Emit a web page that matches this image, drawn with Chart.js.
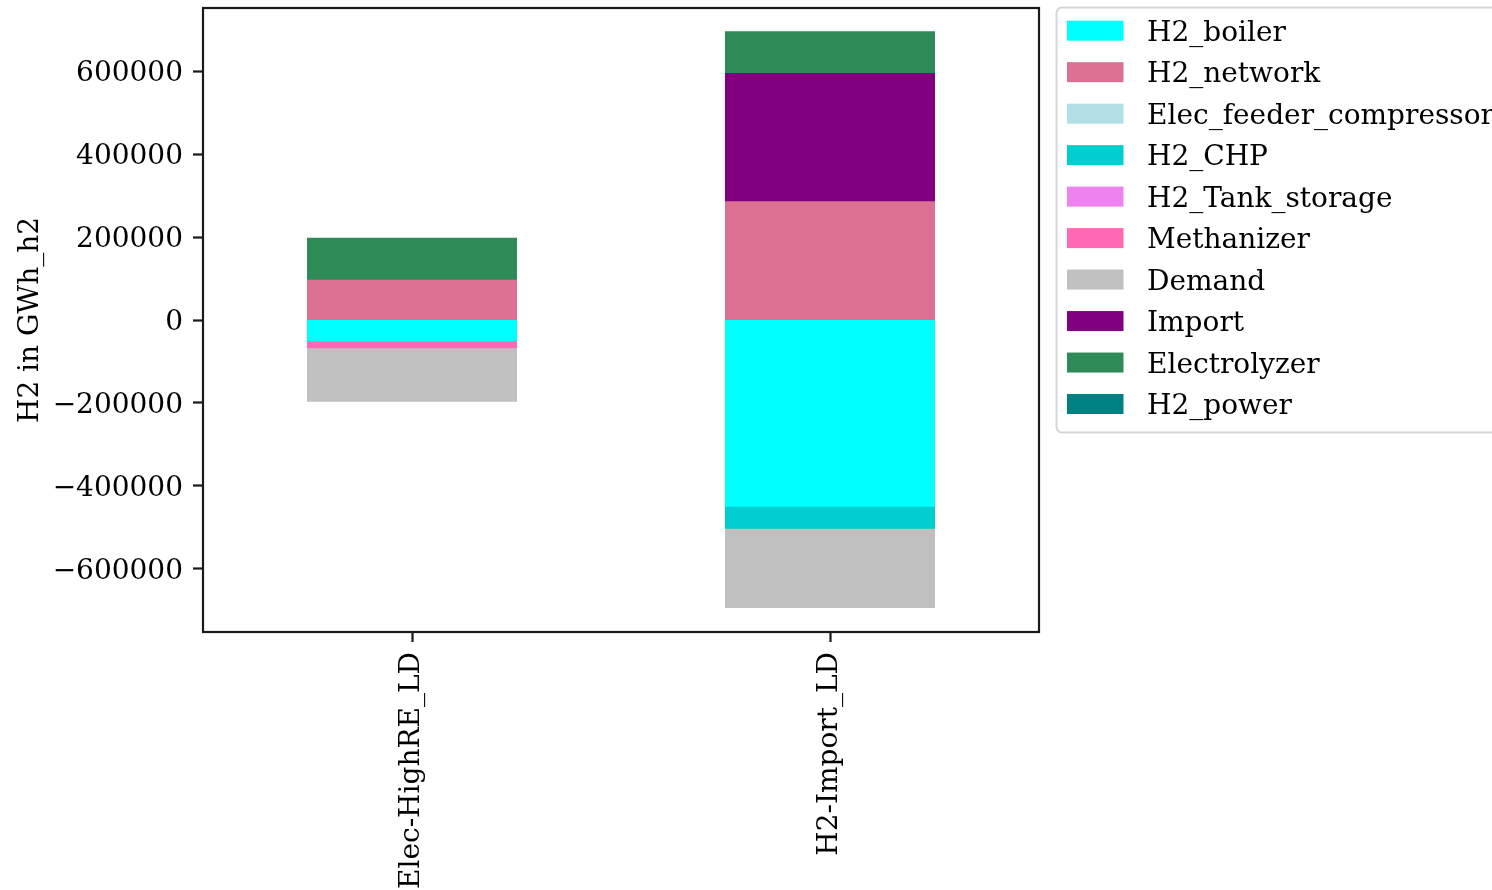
<!DOCTYPE html>
<html>
<head>
<meta charset="utf-8">
<script src="https://cdn.jsdelivr.net/npm/chart.js@4.4.1/dist/chart.umd.min.js"></script>
<style>
  html, body { margin: 0; padding: 0; background: #fff; overflow: hidden; }
  #wrap { width: 1492px; height: 890px; }
</style>
</head>
<body>
<div id="wrap"><canvas id="chart" width="1492" height="890"></canvas></div>
<script>
// Scenarios on the x axis
const categories = ['Elec-HighRE_LD', 'H2-Import_LD'];

// Hydrogen balance per technology, GWh_h2 (supply > 0, use < 0)
const h2Boiler             = [-50000, -449000];
const h2Network            = [96000, 285000];
const elecFeederCompressor = [0, 0];
const h2Chp                = [0, -53000];
const h2TankStorage        = [0, 0];
const methanizer           = [-17000, 0];
const demand               = [-129000, -191000];
const importH2             = [0, 309000];
const electrolyzer         = [101000, 101000];
const h2Power              = [0, 0];

const seriesNames = ['H2_boiler', 'H2_network', 'Elec_feeder_compressor', 'H2_CHP',
  'H2_Tank_storage', 'Methanizer', 'Demand', 'Import', 'Electrolyzer', 'H2_power'];
const seriesValues = [h2Boiler, h2Network, elecFeederCompressor, h2Chp,
  h2TankStorage, methanizer, demand, importH2, electrolyzer, h2Power];
const seriesColors = ['#00ffff', '#db7093', '#b0e0e6', '#00ced1',
  '#ee82ee', '#ff69b4', '#c0c0c0', '#800080', '#2e8b57', '#008080'];

// Value axis
const yTicks = [-600000, -400000, -200000, 0, 200000, 400000, 600000];
const yMin = -752000;
const yMax = 752000;
const yTitle = 'H2 in GWh_h2';

const FONT = "'DejaVu Serif', serif";
const FS = 28;

Chart.defaults.font.family = FONT;
Chart.defaults.font.size = FS;
Chart.defaults.color = '#000';

// Axes frame plus a boxed legend to the right of the plot
const frameAndLegend = {
  id: 'frameAndLegend',
  afterDraw(chart) {
    const { ctx, chartArea: a } = chart;
    ctx.save();
    ctx.strokeStyle = '#1a1a1a';
    ctx.lineWidth = 2.2;
    ctx.strokeRect(a.left, a.top, a.right - a.left, a.bottom - a.top);

    // legend box
    const lx = 1056.5, ly = 7.5, lw = 500, lh = 425, r = 5.6;
    ctx.beginPath();
    ctx.roundRect(lx, ly, lw, lh, r);
    ctx.fillStyle = '#fff';
    ctx.fill();
    ctx.strokeStyle = '#d6d6d6';
    ctx.lineWidth = 2;
    ctx.stroke();

    ctx.font = FS + 'px ' + FONT;
    ctx.textAlign = 'left';
    ctx.textBaseline = 'alphabetic';
    const capHalf = 0.729 * FS / 2;
    chart.data.datasets.forEach((ds, i) => {
      const cy = 30.7 + i * 41.48;
      ctx.fillStyle = ds.backgroundColor;
      ctx.fillRect(1067, cy - 10, 56.5, 20);
      ctx.fillStyle = '#000';
      ctx.fillText(ds.label, 1147, cy + capHalf);
    });
    ctx.restore();
  }
};

const fmt = v => (v < 0 ? '\u2212' + Math.abs(v) : String(v));

new Chart(document.getElementById('chart'), {
  type: 'bar',
  data: {
    labels: categories,
    datasets: seriesNames.map((name, i) => ({
      label: name,
      data: seriesValues[i],
      backgroundColor: seriesColors[i],
      borderWidth: 0,
      // close hairline seams between stacked segments, but keep empty segments invisible
      inflateAmount: c => (c.raw ? 0.5 : 0),
      barPercentage: 1,
      categoryPercentage: 0.5
    }))
  },
  options: {
    responsive: false,
    animation: false,
    devicePixelRatio: 1,
    layout: { padding: { left: 0, top: 8, right: 453, bottom: 0 } },
    plugins: {
      legend: { display: false },
      tooltip: { enabled: false }
    },
    scales: {
      x: {
        stacked: true,
        offset: true,
        border: { display: false },
        grid: {
          offset: false,
          drawOnChartArea: false,
          drawTicks: true,
          tickLength: 10,
          tickWidth: 2.2,
          tickColor: '#1a1a1a'
        },
        ticks: {
          autoSkip: false,
          minRotation: 90,
          maxRotation: 90,
          padding: 10,
          color: '#000',
          font: { family: FONT, size: FS }
        },
        afterFit(scale) {
          scale.height = 258;
          scale.paddingLeft = 0;
          scale.paddingRight = 0;
        }
      },
      y: {
        stacked: true,
        min: yMin,
        max: yMax,
        border: { display: false },
        grid: {
          drawOnChartArea: false,
          drawTicks: true,
          tickLength: 10,
          tickWidth: 2.2,
          tickColor: '#1a1a1a'
        },
        ticks: {
          padding: 10,
          labelOffset: 3,
          color: '#000',
          font: { family: FONT, size: FS },
          callback: v => fmt(v)
        },
        afterBuildTicks(scale) {
          scale.ticks = yTicks.map(v => ({ value: v }));
        },
        title: {
          display: true,
          text: yTitle,
          color: '#000',
          font: { family: FONT, size: FS, lineHeight: 1.2 },
          padding: { top: 14, bottom: 0 }
        },
        afterFit(scale) {
          scale.width = 203;
          scale.paddingTop = 0;
          scale.paddingBottom = 0;
        }
      }
    }
  },
  plugins: [frameAndLegend]
});
</script>
</body>
</html>
